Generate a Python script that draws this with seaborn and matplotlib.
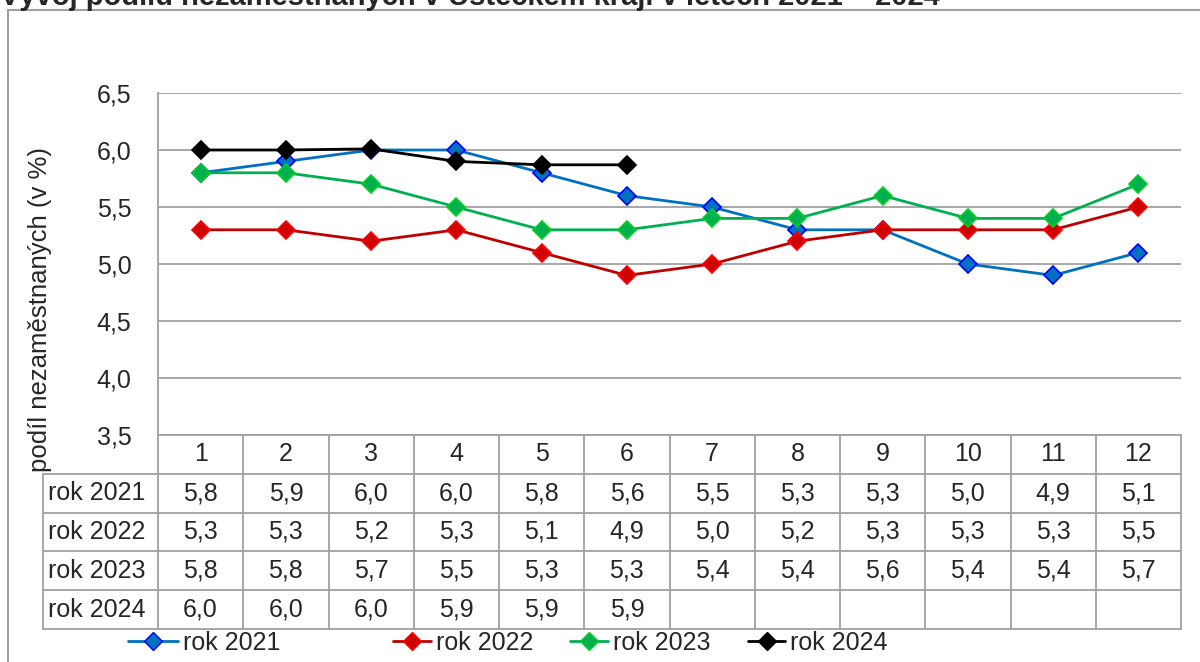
import matplotlib
matplotlib.use("Agg")
import matplotlib.pyplot as plt
import seaborn as sns
import numpy as np
import pandas as pd
from matplotlib.lines import Line2D
from matplotlib.patches import Rectangle

sns.set_style("white")
plt.rcParams['font.family'] = ['Liberation Sans', 'DejaVu Sans']

# Data
months = ['1', '2', '3', '4', '5', '6', '7', '8', '9', '10', '11', '12']
series_names = ['rok 2021', 'rok 2022', 'rok 2023', 'rok 2024']
rok_2021 = [5.8, 5.9, 6.0, 6.0, 5.8, 5.6, 5.5, 5.3, 5.3, 5.0, 4.9, 5.1]
rok_2022 = [5.3, 5.3, 5.2, 5.3, 5.1, 4.9, 5.0, 5.2, 5.3, 5.3, 5.3, 5.5]
rok_2023 = [5.8, 5.8, 5.7, 5.5, 5.3, 5.3, 5.4, 5.4, 5.6, 5.4, 5.4, 5.7]
rok_2024 = [6.0, 6.0, 6.01, 5.9, 5.87, 5.87]
yticks = [3.5, 4.0, 4.5, 5.0, 5.5, 6.0, 6.5]

all_series = [rok_2021, rok_2022, rok_2023, rok_2024]
line_colors = ['#0070C0', '#C00000', '#00B050', '#000000']
face_colors = ['#0070C0', '#D00000', '#00B050', '#000000']
edge_colors = ['#0000FF', '#FF0000', '#00D020', '#000000']

W, H = 1200, 662
fig = plt.figure(figsize=(W / 100, H / 100), dpi=100)

def fx(px):
    return px / W

def fy(py):
    return 1 - py / H

def fmt(v):
    return f'{v:.1f}'.replace('.', ',')

# outer chart border
fig.add_artist(Rectangle((fx(8), -0.05), 1.1, fy(10) + 0.05, transform=fig.transFigure,
                         fill=False, edgecolor='#A0A0A0', linewidth=1.5))

# title (cut off at top like the reference)
fig.text(fx(0), fy(5), 'Vývoj podílu nezaměstnaných v Ústeckém kraji v letech 2021 – 2024',
         ha='left', va='baseline', fontsize=21, fontweight='bold')

left, right, top, bottom = 158, 1181, 93, 435
ax = fig.add_axes([fx(left), fy(bottom), fx(right - left), (bottom - top) / H])

for name, vals, lc, fc, ec in zip(series_names, all_series, line_colors, face_colors, edge_colors):
    df = pd.DataFrame({'x': np.arange(len(vals)), 'y': vals})
    sns.lineplot(data=df, x='x', y='y', ax=ax, color=lc, linewidth=2, marker='D',
                 markersize=9, markerfacecolor=fc, markeredgecolor=ec, markeredgewidth=1.2)

ax.set_xlim(-0.5, len(months) - 0.5)
ax.set_ylim(3.5, 6.5)
ax.set_yticks(yticks)
ax.set_yticklabels([fmt(v) for v in yticks], fontsize=18)
ax.set_xticks([])
ax.set_xlabel('')
ax.set_ylabel('')
ax.grid(axis='y', color='#A0A0A0', linewidth=1.3)
ax.set_axisbelow(True)
for s in ['top', 'right', 'bottom']:
    ax.spines[s].set_visible(False)
ax.spines['left'].set_color('#A0A0A0')
ax.spines['left'].set_linewidth(1.3)
ax.tick_params(axis='y', length=7, width=1.3, color='#A0A0A0', pad=12)

fig.text(fx(40), fy(310), 'podíl nezaměstnaných (v %)', rotation=90,
         ha='center', va='center', fontsize=18.5)

# data table below the axes
col_w = (right - left) / len(months)
label_left = 43
row_h = 38.8
tax = fig.add_axes([fx(label_left), fy(bottom + 5 * row_h), fx(right - label_left), 5 * row_h / H])
x0 = -0.5 - (left - label_left) / col_w
tax.set_xlim(x0, len(months) - 0.5)
tax.set_ylim(5, 0)
tax.axis('off')
gcol = '#A0A0A0'
tax.plot([-0.5, len(months) - 0.5], [0, 0], color=gcol, lw=1.3, clip_on=False)
for r in range(1, 6):
    tax.plot([x0, len(months) - 0.5], [r, r], color=gcol, lw=1.3, clip_on=False)
tax.plot([x0, x0], [1, 5], color=gcol, lw=1.3, clip_on=False)
for c in range(len(months) + 1):
    tax.plot([c - 0.5, c - 0.5], [0, 5], color=gcol, lw=1.3, clip_on=False)
for c, m in enumerate(months):
    tax.text(c, 0.5, m, ha='center', va='center', fontsize=18)
for r, (name, vals) in enumerate(zip(series_names, all_series), start=1):
    tax.text(x0 + 0.06, r + 0.5, name, ha='left', va='center', fontsize=18)
    for c, v in enumerate(vals):
        tax.text(c, r + 0.5, fmt(v), ha='center', va='center', fontsize=18)

# legend: first entry has a longer key, as in the reference
handles = [Line2D([], [], color=lc, lw=2, marker='D', markersize=9, markerfacecolor=fc,
                  markeredgecolor=ec) for lc, fc, ec in zip(line_colors, face_colors, edge_colors)]
leg1 = fig.legend(handles[:1], series_names[:1], loc='center left', bbox_to_anchor=(fx(128), fy(643)),
                  frameon=False, fontsize=18, handlelength=2.0, handletextpad=0.2, borderpad=0,
                  borderaxespad=0)
fig.legend(handles[1:], series_names[1:], loc='center left', bbox_to_anchor=(fx(393), fy(643)),
           ncol=3, frameon=False, fontsize=18, handlelength=1.5, handletextpad=0.2,
           columnspacing=1.5, borderpad=0, borderaxespad=0)

fig.savefig('out.png', dpi=100)
